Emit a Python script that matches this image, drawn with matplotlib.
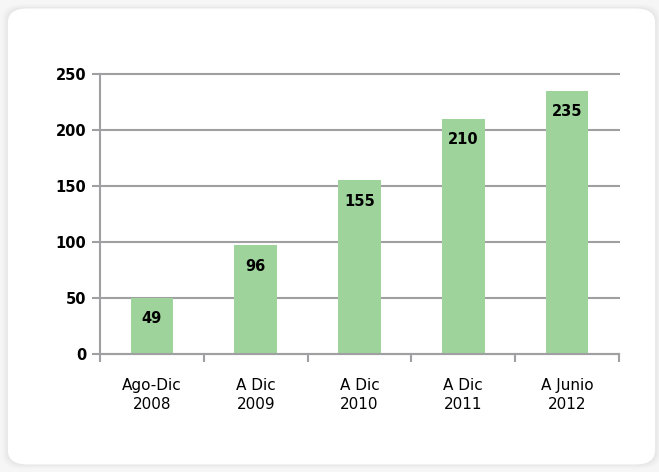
import matplotlib.pyplot as plt
from matplotlib.patches import FancyBboxPatch

categories = ["Ago-Dic\n2008", "A Dic\n2009", "A Dic\n2010", "A Dic\n2011", "A Junio\n2012"]
values = [49, 96, 155, 210, 235]
bar_heights = [50, 97, 155, 210, 235]
y_ticks = [0, 50, 100, 150, 200, 250]

plt.rcParams["font.family"] = ["DejaVu Sans"]

fig = plt.figure(figsize=(6.59, 4.72), dpi=100)
fig.patch.set_facecolor("#f6f6f6")

# rounded white card with soft shadow
for i, a in enumerate([0.012, 0.018, 0.025]):
    d = 0.003 * (3 - i)
    fig.patches.append(FancyBboxPatch(
        (0.012 - d, 0.016 - d), 0.982 + 2 * d, 0.966 + 2 * d,
        boxstyle="round,pad=0,rounding_size=0.03",
        transform=fig.transFigure, facecolor="black", alpha=a,
        edgecolor="none", zorder=0))
fig.patches.append(FancyBboxPatch(
    (0.012, 0.016), 0.982, 0.966,
    boxstyle="round,pad=0,rounding_size=0.03",
    transform=fig.transFigure, facecolor="white", edgecolor="none", zorder=1))

ax = fig.add_axes([100 / 659, 1 - 354 / 472, 519 / 659, 280 / 472])
ax.set_facecolor("none")
ax.set_zorder(5)

x = range(len(categories))
ax.bar(x, [h - 1 for h in bar_heights], bottom=1, width=0.41, color="#9ed39b", zorder=2)

for xi, h, v in zip(x, bar_heights, values):
    ax.annotate(str(v), (xi, h), xytext=(0, -15), textcoords="offset points",
                ha="center", va="center", fontsize=10.5, fontweight="bold", color="black")

ax.set_xlim(-0.5, len(categories) - 0.5)
ax.set_ylim(0, 250)
ax.set_yticks(y_ticks)
ax.set_yticklabels([str(t) for t in y_ticks], fontsize=10.5, fontweight="bold")
ax.yaxis.grid(True, color="#a0a0a2", linewidth=1.5, zorder=0)
ax.set_axisbelow(True)
for line in ax.get_ygridlines():
    line.set_clip_on(False)

ax.set_xticks([i + 0.5 for i in range(-1, len(categories))])
ax.set_xticklabels([])
ax.set_xticks(list(x), minor=True)
ax.set_xticklabels(categories, minor=True, fontsize=11, linespacing=1.35)
ax.tick_params(axis="x", which="major", direction="out", length=6, width=1.5, color="#a0a0a2")
ax.tick_params(axis="x", which="minor", length=0, pad=17)
ax.tick_params(axis="y", direction="out", length=6, width=1.5, color="#a0a0a2", pad=4)

for side in ["top", "right"]:
    ax.spines[side].set_visible(False)
for side in ["left", "bottom"]:
    ax.spines[side].set_color("#a0a0a2")
    ax.spines[side].set_linewidth(1.5)

fig.savefig("out.png", dpi=100, facecolor=fig.get_facecolor())
